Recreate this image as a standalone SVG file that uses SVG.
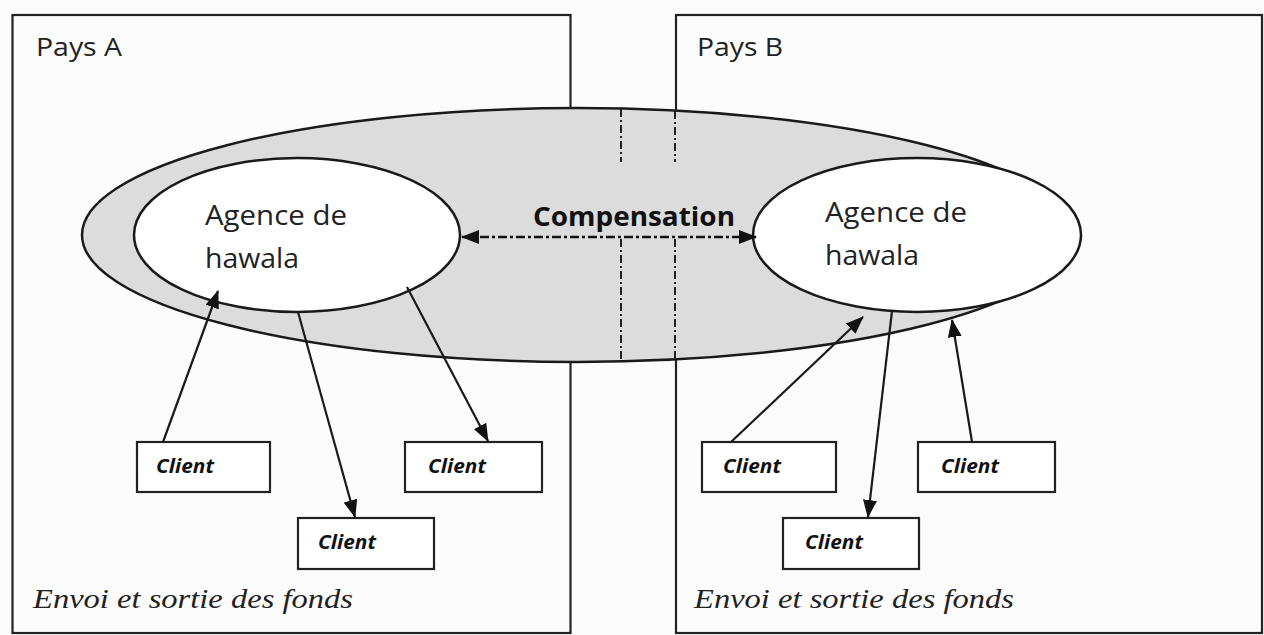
<svg xmlns="http://www.w3.org/2000/svg" width="1264" height="635" viewBox="0 0 1264 635">
  <defs>
    <marker id="arr" viewBox="0 0 18 14" refX="17" refY="7" markerWidth="18" markerHeight="14" markerUnits="userSpaceOnUse" orient="auto-start-reverse">
      <path d="M0,0 L18,7 L0,14 z" fill="#111"/>
    </marker>
    <style>
      .frame { fill: none; stroke: #222; stroke-width: 2.2; }
      .outer { fill: #dcdcdc; stroke: #1a1a1a; stroke-width: 2.5; }
      .agency { fill: #ffffff; stroke: #1a1a1a; stroke-width: 2.5; }
      .client { fill: #ffffff; stroke: #222; stroke-width: 2.2; }
      .dd { fill: none; stroke: #222; stroke-width: 2; stroke-dasharray: 8 3 2 3; }
      .ddc { fill: none; stroke: #111; stroke-width: 2.5; stroke-dasharray: 9 3 3 3; }
      .conn { fill: none; stroke: #1a1a1a; stroke-width: 2.2; marker-end: url(#arr); }
      .pays { font-family: "Open Sans", "Liberation Sans", sans-serif; font-size: 25px; fill: #222; }
      .ag { font-family: "Open Sans", "Liberation Sans", sans-serif; font-size: 28px; fill: #222; }
      .comp { font-family: "Open Sans", "Liberation Sans", sans-serif; font-size: 27px; font-weight: bold; fill: #111; }
      .cl { font-family: "Open Sans", "Liberation Sans", sans-serif; font-size: 20px; font-weight: bold; font-style: italic; fill: #111; }
      .env { font-family: "Liberation Serif", serif; font-size: 28px; font-style: italic; fill: #222; }
    </style>
  </defs>
  <rect x="0" y="0" width="1264" height="635" fill="#fcfcfc"/>

  <g id="pays-a">
    <rect class="frame" x="12.5" y="15" width="558" height="618"/>
    <text class="pays" x="36" y="56" textLength="86" lengthAdjust="spacingAndGlyphs">Pays A</text>
    <text class="env" x="33" y="608" textLength="320" lengthAdjust="spacingAndGlyphs">Envoi et sortie des fonds</text>
  </g>
  <g id="pays-b">
    <rect class="frame" x="676" y="15" width="586" height="618"/>
    <text class="pays" x="697" y="56" textLength="86" lengthAdjust="spacingAndGlyphs">Pays B</text>
    <text class="env" x="694" y="608" textLength="320" lengthAdjust="spacingAndGlyphs">Envoi et sortie des fonds</text>
  </g>

  <g id="zone-compensation">
    <ellipse class="outer" cx="577" cy="235" rx="495" ry="127"/>
    <line class="dd" x1="621" y1="109" x2="621" y2="162"/>
    <line class="dd" x1="675" y1="111" x2="675" y2="162"/>
    <line class="dd" x1="621" y1="239" x2="621" y2="361"/>
    <line class="dd" x1="675" y1="239" x2="675" y2="359"/>
    <text class="comp" x="533" y="226" textLength="202" lengthAdjust="spacingAndGlyphs">Compensation</text>
  </g>

  <g id="agence-a">
    <ellipse class="agency" cx="297" cy="235" rx="163" ry="77"/>
    <text class="ag" x="205" y="225" textLength="142" lengthAdjust="spacingAndGlyphs">Agence de</text>
    <text class="ag" x="205" y="268" textLength="94" lengthAdjust="spacingAndGlyphs">hawala</text>
  </g>
  <g id="agence-b">
    <ellipse class="agency" cx="917" cy="235" rx="164" ry="77"/>
    <text class="ag" x="825" y="222" textLength="142" lengthAdjust="spacingAndGlyphs">Agence de</text>
    <text class="ag" x="825" y="265" textLength="94" lengthAdjust="spacingAndGlyphs">hawala</text>
  </g>

  <g id="client-a1">
    <rect class="client" x="137" y="442" width="133" height="50"/>
    <text class="cl" x="156" y="473" textLength="58" lengthAdjust="spacingAndGlyphs">Client</text>
  </g>
  <g id="client-a2">
    <rect class="client" x="298" y="518" width="136" height="51"/>
    <text class="cl" x="318" y="549" textLength="58" lengthAdjust="spacingAndGlyphs">Client</text>
  </g>
  <g id="client-a3">
    <rect class="client" x="405" y="442" width="137" height="50"/>
    <text class="cl" x="428" y="473" textLength="58" lengthAdjust="spacingAndGlyphs">Client</text>
  </g>
  <g id="client-b1">
    <rect class="client" x="702" y="442" width="134" height="50"/>
    <text class="cl" x="723" y="473" textLength="58" lengthAdjust="spacingAndGlyphs">Client</text>
  </g>
  <g id="client-b2">
    <rect class="client" x="783" y="518" width="136" height="51"/>
    <text class="cl" x="805" y="549" textLength="58" lengthAdjust="spacingAndGlyphs">Client</text>
  </g>
  <g id="client-b3">
    <rect class="client" x="918" y="442" width="137" height="50"/>
    <text class="cl" x="941" y="473" textLength="58" lengthAdjust="spacingAndGlyphs">Client</text>
  </g>

  <g id="connectors">
    <line class="ddc" x1="462" y1="237" x2="756" y2="237" marker-start="url(#arr)" marker-end="url(#arr)"/>
    <line class="conn" x1="163" y1="442" x2="218" y2="291"/>
    <line class="conn" x1="298" y1="312" x2="355" y2="517"/>
    <line class="conn" x1="407" y1="287" x2="488" y2="441"/>
    <line class="conn" x1="731" y1="442" x2="863" y2="317"/>
    <line class="conn" x1="892" y1="311" x2="868" y2="517"/>
    <line class="conn" x1="972" y1="442" x2="952" y2="320"/>
  </g>
</svg>
